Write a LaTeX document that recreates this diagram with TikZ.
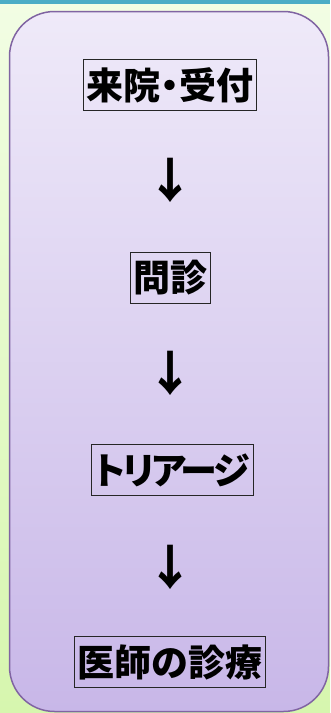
\documentclass[tikz,border=0pt]{standalone}
\usepackage{fontspec}
\newfontfamily\jpfont{Noto Sans CJK JP}
\definecolor{bandblue}{HTML}{4BACC6}
\definecolor{bgtop}{HTML}{F2FDE4}
\definecolor{bgbottom}{HTML}{D6F6AE}
\definecolor{paneledge}{HTML}{8064A2}
\definecolor{paneltop}{HTML}{EFEAF9}
\definecolor{panelbottom}{HTML}{C8B7E8}

\begin{document}
\begin{tikzpicture}[x=1pt, y=-1pt,
    panel/.style={draw=paneledge, line width=1.5pt, rounded corners=45pt, top color=paneltop, bottom color=panelbottom, minimum width=319pt, minimum height=700pt, inner sep=0pt},
    stepbox/.style={draw=black!85, line width=0.8pt, font=\jpfont\bfseries\fontsize{37pt}{40pt}\selectfont, inner xsep=3pt, minimum height=51pt},
    downmark/.style={font=\jpfont\bfseries\fontsize{48pt}{50pt}\selectfont, inner sep=0pt},
]
    \useasboundingbox (0,0) rectangle (330,713);
    \shade[top color=bgtop, bottom color=bgbottom] (0,0) rectangle (330,713);
    \fill[bandblue] (0,0) rectangle (330,3.5);

    \node[panel] (panel) at (169,361.5) {};

    \node[stepbox] (reception) at (170,85) {\addfontfeatures{RawFeature=+palt}来院・受付};
    \node[downmark] (arrowA) at (170,180) {↓};
    \node[stepbox] (interview) at (170,278) {問診};
    \node[downmark] (arrowB) at (170,373) {↓};
    \node[stepbox] (triage) at (172,470) {\addfontfeatures{RawFeature=+palt,LetterSpace=-7}トリアージ};
    \node[downmark] (arrowC) at (170,567) {↓};
    \node[stepbox] (doctor) at (170,662) {医師の診療};
\end{tikzpicture}
\end{document}
